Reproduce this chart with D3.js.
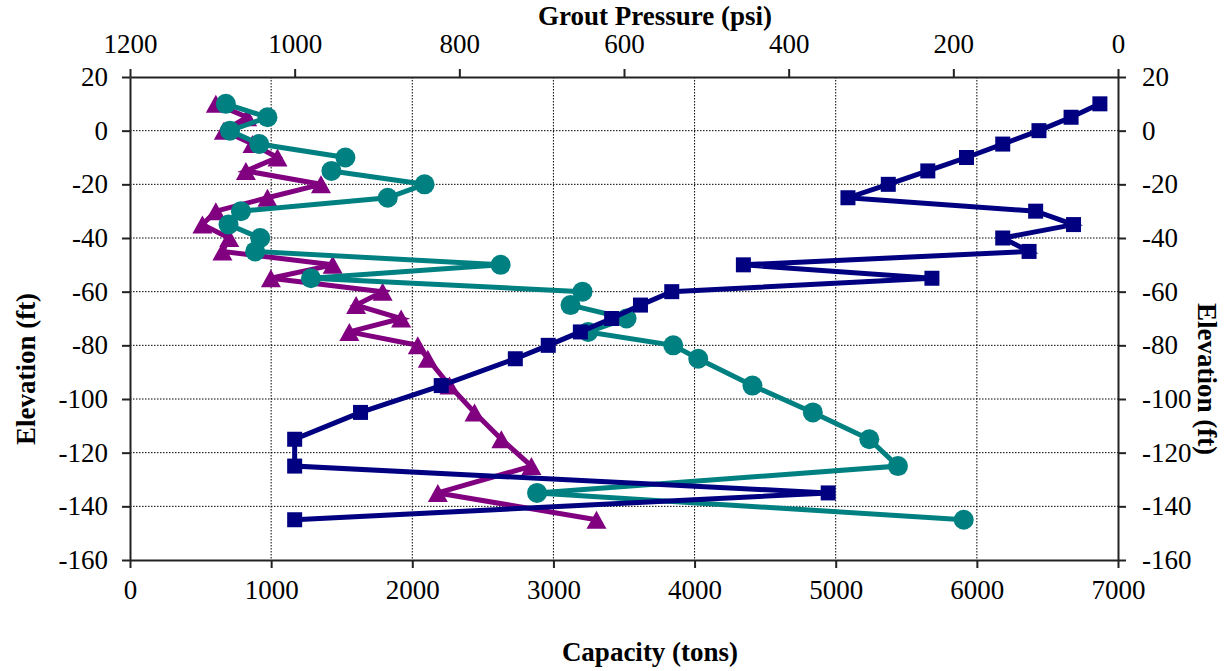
<!DOCTYPE html>
<html>
<head>
<meta charset="utf-8">
<script src="https://d3js.org/d3.v7.min.js"></script>
<style>
  body { margin: 0; background: #fff; }
  text { font-family: "Liberation Serif", "Times New Roman", serif; fill: #000; }
  .grid line { stroke: #000; stroke-width: 1; stroke-dasharray: 1.5,1.5; }
  .axis path, .axis line { stroke: #222; stroke-width: 2; }
  .axis text { font-size: 27px; }
  .title { font-size: 27px; font-weight: bold; }
</style>
</head>
<body>
<div id="chart"></div>
<script>
// elevations (ft), shared by all three series
var elevNavy = [10, 5, 0, -5, -10, -15, -20, -25, -30, -35, -40, -45, -50, -55, -60, -65, -70, -75, -80, -85, -95, -105, -115, -125, -135, -145];
var elevTeal = [10, 5, 0, -5, -10, -15, -20, -25, -30, -35, -40, -45, -50, -55, -60, -65, -70, -75, -80, -85, -95, -105, -115, -125, -135, -145];
var elevPurple = [10, 5, 0, -5, -10, -15, -20, -25, -30, -35, -40, -45, -50, -55, -60, -65, -70, -75, -80, -85, -95, -105, -115, -125, -135, -145];

// grout pressure (psi) - top axis
var pressure = [22, 57, 96, 140, 184, 231, 279, 328, 100, 54, 140, 108, 455, 226, 542, 580, 615, 653, 692, 732, 822, 920, 1000, 1000, 352, 1000];
// capacity (tons) - bottom axis
var capTeal = [679, 974, 708, 916, 1526, 1427, 2087, 1826, 786, 698, 923, 887, 2626, 1282, 3206, 3121, 3518, 3246, 3849, 4026, 4410, 4838, 5238, 5441, 2884, 5907];
var capPurple = [608, 830, 665, 868, 1045, 821, 1353, 974, 608, 513, 703, 655, 1436, 998, 1790, 1602, 1921, 1554, 2039, 2110, 2264, 2441, 2631, 2844, 2181, 3305];

var capTicks = [0, 1000, 2000, 3000, 4000, 5000, 6000, 7000];
var psiTicks = [1200, 1000, 800, 600, 400, 200, 0];
var elevTicks = [20, 0, -20, -40, -60, -80, -100, -120, -140, -160];

var width = 1228, height = 671;
var plotL = 130, plotR = 1118, plotT = 77, plotB = 560;

var svg = d3.select("#chart").append("svg")
    .attr("width", width)
    .attr("height", height);

var x = d3.scaleLinear().domain([0, 7000]).range([plotL, plotR]);
var xP = d3.scaleLinear().domain([1200, 0]).range([plotL, plotR]);
var y = d3.scaleLinear().domain([20, -160]).range([plotT, plotB]);
// plain hyphen for negatives, no thousands separator
var fmt = function(d) { return String(d); };

// gridlines
var grid = svg.append("g").attr("class", "grid");
grid.selectAll(".gx")
    .data(capTicks.filter(function(d) { return d > 0 && d < 7000; }))
    .enter().append("line")
    .attr("x1", function(d) { return x(d); })
    .attr("x2", function(d) { return x(d); })
    .attr("y1", plotT).attr("y2", plotB);
grid.selectAll(".gy")
    .data(elevTicks.filter(function(d) { return d < 20 && d > -160; }))
    .enter().append("line")
    .attr("y1", function(d) { return y(d); })
    .attr("y2", function(d) { return y(d); })
    .attr("x1", plotL).attr("x2", plotR);

// axes
svg.append("g").attr("class", "axis")
    .attr("transform", "translate(" + plotL + ",0)")
    .call(d3.axisLeft(y).tickValues(elevTicks).tickFormat(fmt).tickSize(8).tickPadding(14).tickSizeOuter(0));
svg.append("g").attr("class", "axis")
    .attr("transform", "translate(" + plotR + ",0)")
    .call(d3.axisRight(y).tickValues(elevTicks).tickFormat(fmt).tickSize(8).tickPadding(16).tickSizeOuter(0));
var axB = svg.append("g").attr("class", "axis")
    .attr("transform", "translate(0," + plotB + ")")
    .call(d3.axisBottom(x).tickValues(capTicks).tickFormat(fmt).tickSize(8).tickSizeOuter(0));
axB.selectAll("text").attr("y", 39).attr("dy", 0);
var axT = svg.append("g").attr("class", "axis")
    .attr("transform", "translate(0," + plotT + ")")
    .call(d3.axisTop(xP).tickValues(psiTicks).tickFormat(fmt).tickSize(8).tickSizeOuter(0));
axT.selectAll("text").attr("y", -24).attr("dy", 0);

// series
function drawSeries(xs, xScale, ys, color, shape) {
    var pts = xs.map(function(v, i) { return [xScale(v), y(ys[i])]; });
    svg.append("path")
        .datum(pts)
        .attr("fill", "none")
        .attr("stroke", color)
        .attr("stroke-width", 5)
        .attr("stroke-linejoin", "miter")
        .attr("d", d3.line());
    var g = svg.append("g").attr("fill", color);
    pts.forEach(function(p) {
        if (shape == "circle") {
            g.append("circle").attr("cx", p[0]).attr("cy", p[1]).attr("r", 10);
        } else if (shape == "square") {
            g.append("rect").attr("x", p[0] - 7.5).attr("y", p[1] - 7.5).attr("width", 15).attr("height", 15);
        } else {
            g.append("path").attr("d", "M" + p[0] + "," + (p[1] - 9) + "L" + (p[0] + 10) + "," + (p[1] + 9) + "L" + (p[0] - 10) + "," + (p[1] + 9) + "Z");
        }
    });
}

drawSeries(capPurple, x, elevPurple, "#800080", "triangle");
drawSeries(capTeal, x, elevTeal, "#008080", "circle");
drawSeries(pressure, xP, elevNavy, "#000080", "square");

// titles
svg.append("text").attr("class", "title")
    .attr("x", 655).attr("y", 25).attr("text-anchor", "middle")
    .text("Grout Pressure (psi)");
svg.append("text").attr("class", "title")
    .attr("x", 650).attr("y", 661).attr("text-anchor", "middle")
    .text("Capacity (tons)");
svg.append("text").attr("class", "title")
    .attr("transform", "translate(35,369) rotate(-90)")
    .attr("text-anchor", "middle")
    .text("Elevation (ft)");
svg.append("text").attr("class", "title")
    .attr("transform", "translate(1198,379) rotate(90)")
    .attr("text-anchor", "middle")
    .text("Elevation (ft)");
</script>
</body>
</html>
